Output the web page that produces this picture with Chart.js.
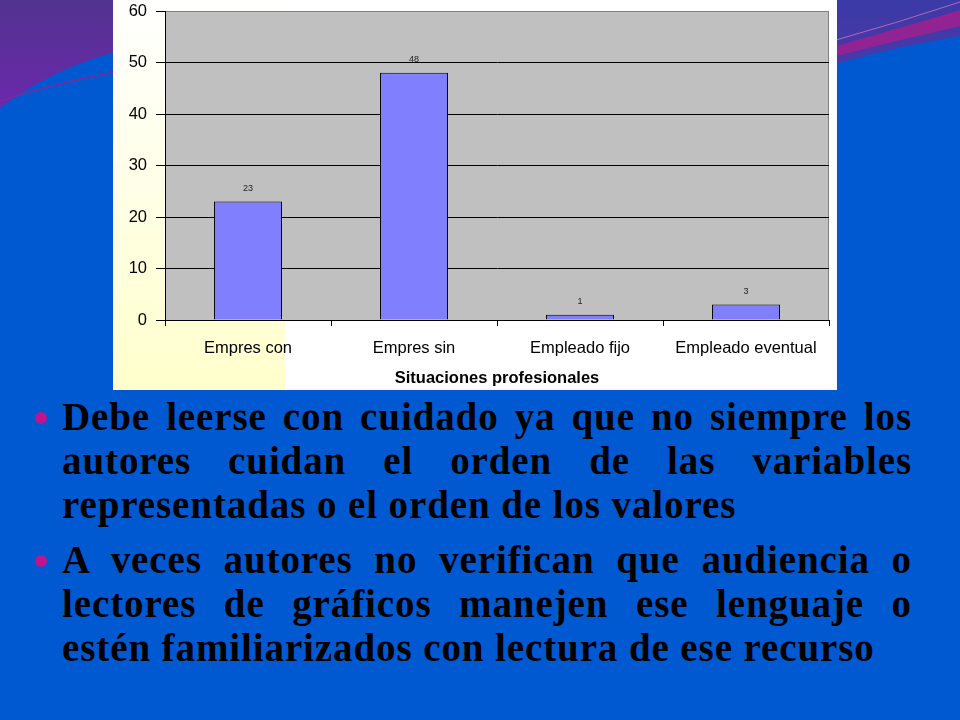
<!DOCTYPE html>
<html>
<head>
<meta charset="utf-8">
<script src="https://cdn.jsdelivr.net/npm/chart.js@4.4.0/dist/chart.umd.min.js"></script>
<style>
  html, body { margin: 0; padding: 0; }
  body { width: 960px; height: 720px; position: relative; overflow: hidden; background: #0059d0; }
  #deco { position: absolute; left: 0; top: 0; }
  #box {
    position: absolute; left: 113px; top: 0; width: 724px; height: 390px;
    background-color: #fff;
    background-image: linear-gradient(to top, #ffffcc 0%, #fffff0 70%, #ffffff 100%);
    background-size: 172px 100%;
    background-repeat: no-repeat;
  }
  #costChart { position: absolute; left: 0; top: 0; }
  .bullet { position: absolute; left: 62px; width: 850px; font-family: "Liberation Serif", "Times New Roman", serif; font-weight: bold; font-size: 39px; letter-spacing: 0.9px; color: #000; }
  .bullet .ln { height: 44px; line-height: 44px; text-align: justify; text-align-last: justify; }
  .bullet .ln.last { text-align: left; text-align-last: left; }
  .dot { position: absolute; left: -27px; width: 12px; height: 12px; border-radius: 50%; background: #c0148c; }
</style>
</head>
<body>
<svg id="deco" width="960" height="720" viewBox="0 0 960 720">
  <defs>
    <linearGradient id="gl" x1="0" y1="0" x2="0" y2="1">
      <stop offset="0" stop-color="#52338f"/>
      <stop offset="1" stop-color="#6b28ad"/>
    </linearGradient>
    <linearGradient id="gr" x1="0" y1="0" x2="0" y2="1">
      <stop offset="0" stop-color="#3b3aa6"/>
      <stop offset="1" stop-color="#4a38a8"/>
    </linearGradient>
  </defs>
  <path d="M0,0 H115 V52 Q50,70 0,108 Z" fill="url(#gl)"/>
  <path d="M0,101 Q60,82 115,72" stroke="#7a2a9a" stroke-width="1.5" fill="none"/>
  <path d="M836,0 H960 V36 Q890,48 836,64 Z" fill="url(#gr)"/>
  <path d="M836,46 Q900,28 960,10 L960,26 Q900,40 836,56 Z" fill="#a0208f" opacity="0.85"/>
  <path d="M836,40 Q900,22 960,2" stroke="#d070c0" stroke-width="1" fill="none" opacity="0.8"/>
</svg>

<div id="box"><canvas id="costChart" width="724" height="390"></canvas></div>

<div class="bullet" style="top:395px">
  <div class="dot" style="top:17px"></div>
  <div class="ln">Debe leerse con cuidado ya que no siempre los</div>
  <div class="ln">autores cuidan el orden de las variables</div>
  <div class="ln last">representadas o el orden de los valores</div>
</div>
<div class="bullet" style="top:538px">
  <div class="dot" style="top:17px"></div>
  <div class="ln">A veces autores no verifican que audiencia o</div>
  <div class="ln">lectores de gráficos manejen ese lenguaje o</div>
  <div class="ln last">estén familiarizados con lectura de ese recurso</div>
</div>

<script>
// Situaciones profesionales - counts
const categories = ['Empres con', 'Empres sin', 'Empleado fijo', 'Empleado eventual'];
const counts = [23, 48, 1, 3];
const yTicks = [0, 10, 20, 30, 40, 50, 60];

const FONT = "'Liberation Sans', Arial, sans-serif";

// grey plot background with a grey frame, like the old Excel chart
const plotBackground = {
    id: 'plotBackground',
    beforeDraw(chart) {
        const { ctx, chartArea: a } = chart;
        ctx.save();
        ctx.fillStyle = '#c0c0c0';
        ctx.fillRect(a.left, a.top, a.right - a.left, a.bottom - a.top);
        ctx.strokeStyle = '#808080';
        ctx.lineWidth = 1;
        ctx.strokeRect(a.left + 0.5, a.top + 0.5, a.right - a.left - 1, a.bottom - a.top);
        ctx.restore();
    }
};

// small value labels above each bar
const valueLabels = {
    id: 'valueLabels',
    afterDatasetsDraw(chart) {
        const { ctx } = chart;
        const meta = chart.getDatasetMeta(0);
        ctx.save();
        ctx.font = '9px ' + FONT;
        ctx.fillStyle = '#222';
        ctx.textAlign = 'center';
        ctx.textBaseline = 'middle';
        meta.data.forEach((bar, i) => {
            ctx.fillText(String(counts[i]), bar.x, bar.y - 13);
        });
        ctx.restore();
    }
};

const ctx = document.getElementById('costChart');
const chart = new Chart(ctx, {
    type: 'bar',
    data: {
        labels: categories,
        datasets: [{
            data: counts,
            backgroundColor: '#8080ff',
            borderColor: '#000',
            borderWidth: 1,
            barPercentage: 0.41,
            categoryPercentage: 1
        }]
    },
    options: {
        responsive: false,
        animation: false,
        layout: { padding: { top: 11, right: 8, left: 0, bottom: 0 } },
        plugins: {
            legend: { display: false },
            tooltip: { enabled: false }
        },
        scales: {
            x: {
                offset: true,
                afterFit(scale) {
                    scale.height = 70;
                    scale.paddingLeft = 0;
                    scale.paddingRight = 0;
                },
                grid: { drawOnChartArea: false, drawTicks: true, tickLength: 6, tickColor: '#000', offset: true },
                border: { color: '#000', width: 1 },
                ticks: { color: '#000', font: { family: FONT, size: 16.5 }, padding: 13, maxRotation: 0 },
                title: {
                    display: true,
                    text: 'Situaciones profesionales',
                    color: '#000',
                    font: { family: FONT, size: 16.5, weight: 'bold' },
                    padding: { top: 0, bottom: 2 }
                }
            },
            y: {
                min: 0,
                max: 60,
                afterFit(scale) {
                    scale.width = 52;
                    // the tick labels may stick out of the plot; keep the frame where the slide has it
                    scale.paddingTop = 0;
                    scale.paddingBottom = 0;
                },
                afterBuildTicks(scale) { scale.ticks = yTicks.map(v => ({ value: v })); },
                grid: {
                    color: c => (c.tick && c.tick.value === 60 ? 'rgba(0,0,0,0)' : '#000'),
                    tickColor: '#000',
                    tickLength: 9,
                    lineWidth: 1
                },
                border: { color: '#000', width: 1 },
                ticks: { color: '#000', font: { family: FONT, size: 16.5 }, padding: 9 }
            }
        }
    },
    plugins: [plotBackground, valueLabels]
});
</script>
</body>
</html>
